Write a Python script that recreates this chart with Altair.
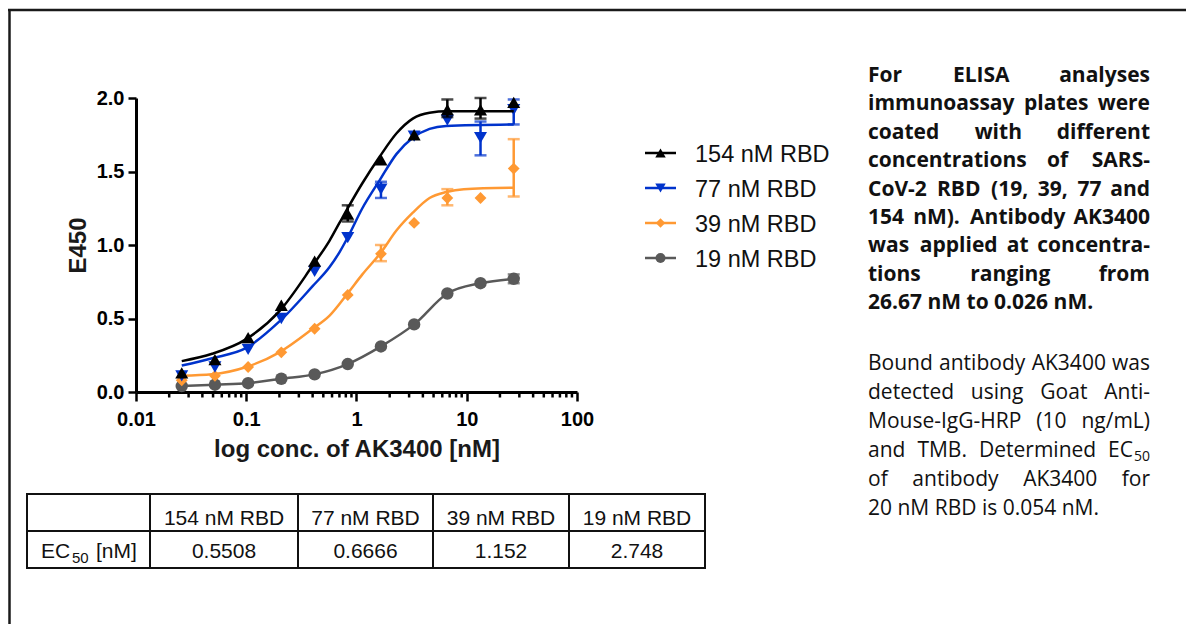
import altair as alt
import pandas as pd

# ---------------- data ----------------
SERIES = ["154 nM RBD", "77 nM RBD", "39 nM RBD", "19 nM RBD"]

CONC = [0.026, 0.052, 0.104, 0.208, 0.417, 0.833, 1.667, 3.333, 6.667, 13.33, 26.67]
E450_154 = [0.13, 0.22, 0.37, 0.59, 0.89, 1.21, 1.58, 1.75, 1.92, 1.92, 1.97]
E450_77 = [0.11, 0.17, 0.29, 0.50, 0.82, 1.05, 1.38, 1.74, 1.85, 1.73, 1.92]
E450_39 = [0.08, 0.11, 0.17, 0.27, 0.43, 0.66, 0.94, 1.15, 1.32, 1.32, 1.52]
E450_19 = [0.04, 0.05, 0.06, 0.09, 0.12, 0.19, 0.31, 0.46, 0.67, 0.74, 0.77]

# error bars: concentration, lower end, upper end
ERR_CONC_154 = [0.833, 6.667, 13.33]
ERR_LO_154 = [1.16, 1.87, 1.86]
ERR_HI_154 = [1.27, 1.99, 2.00]
ERR_CONC_77 = [1.667, 13.33, 26.67]
ERR_LO_77 = [1.32, 1.61, 1.82]
ERR_HI_77 = [1.43, 1.84, 1.99]
ERR_CONC_39 = [1.667, 6.667, 26.67]
ERR_LO_39 = [0.89, 1.27, 1.33]
ERR_HI_39 = [1.00, 1.38, 1.72]
ERR_CONC_19 = [26.67]
ERR_LO_19 = [0.74]
ERR_HI_19 = [0.80]

# fitted curves
FIT_CONC_154 = [0.026, 0.049, 0.1, 0.2, 0.4, 0.57, 0.70, 1.13, 1.62, 2.31, 3.24, 4.6, 6.67, 26.67]
FIT_154 = [0.21, 0.26, 0.36, 0.55, 0.86, 1.03, 1.15, 1.42, 1.60, 1.76, 1.86, 1.90, 1.91, 1.91]
FIT_CONC_77 = [0.026, 0.049, 0.1, 0.2, 0.4, 0.57, 0.70, 0.83, 1.13, 1.62, 2.31, 3.24, 4.6, 6.5, 26.67]
FIT_77 = [0.18, 0.23, 0.30, 0.48, 0.72, 0.85, 0.95, 1.05, 1.25, 1.44, 1.62, 1.73, 1.79, 1.81, 1.82]
FIT_CONC_39 = [0.026, 0.049, 0.1, 0.2, 0.4, 0.57, 0.83, 1.13, 1.67, 2.31, 3.24, 4.6, 6.5, 9.4, 26.67]
FIT_39 = [0.11, 0.12, 0.17, 0.27, 0.43, 0.52, 0.67, 0.80, 0.95, 1.10, 1.22, 1.32, 1.36, 1.38, 1.39]

X_TICKS = [0.01, 0.1, 1, 10, 100]
Y_TICKS = [0.0, 0.5, 1.0, 1.5, 2.0]

TABLE_ROW_LABEL = "EC"
TABLE_ROW_SUB = "50"
TABLE_ROW_UNIT = "[nM]"
EC50 = ["0.5508", "0.6666", "1.152", "2.748"]

PARA1_WORDS = [
    ["For", "ELISA", "analyses"],
    ["immunoassay", "plates", "were"],
    ["coated", "with", "different"],
    ["concentrations", "of", "SARS-"],
    ["CoV-2", "RBD", "(19,", "39,", "77", "and"],
    ["154", "nM).", "Antibody", "AK3400"],
    ["was", "applied", "at", "concentra-"],
    ["tions", "ranging", "from"],
    ["26.67 nM to 0.026 nM."],
]
PARA2_WORDS = [
    ["Bound", "antibody", "AK3400", "was"],
    ["detected", "using", "Goat", "Anti-"],
    ["Mouse-IgG-HRP", "(10", "ng/mL)"],
    ["and", "TMB.", "Determined", "EC"],
    ["of", "antibody", "AK3400", "for"],
    ["20 nM RBD is 0.054 nM."],
]
PARA2_SUB = "50"
PARA2_SUB_LINE = 3

# ---------------- layout & style ----------------
COLORS = ["#000000", "#0033cc", "#ff9933", "#595959"]
SHAPES = ["triangle-up", "triangle-down", "diamond", "circle"]
SIZES = [170, 170, 140, 155]
LEG_SIZES = [110, 110, 90, 100]
FONT_SANS = "Liberation Sans, Arial, Helvetica, sans-serif"
FONT_TEXT = "Open Sans, Noto Sans, sans-serif"
INK = "#111111"

W, H = 441, 294
PAD_L, PAD_T = 128, 90
TOTAL_W, TOTAL_H = 1178, 616
PAD_R = TOTAL_W - PAD_L - W
PAD_B = TOTAL_H - PAD_T - H
OX, OY = 8 + PAD_L, 8 + PAD_T


def rx(px):
    return px - OX


def ry(py):
    return py - OY


ONE = pd.DataFrame({"k": [0]})


def text_layer(s, px, py, size, weight="normal", font=FONT_SANS, align="left", color=INK):
    return alt.Chart(ONE).mark_text(
        align=align, baseline="alphabetic", font=font, fontSize=size,
        fontWeight=weight, color=color
    ).encode(x=alt.value(rx(px)), y=alt.value(ry(py)), text=alt.value(s))


def hline(px1, px2, py, w=2, color=INK, cap="square"):
    return alt.Chart(ONE).mark_rule(color=color, strokeWidth=w, strokeCap=cap).encode(
        x=alt.value(rx(px1)), x2=alt.value(rx(px2)), y=alt.value(ry(py)))


def vline(px, py1, py2, w=2, color=INK, cap="square"):
    return alt.Chart(ONE).mark_rule(color=color, strokeWidth=w, strokeCap=cap).encode(
        x=alt.value(rx(px)), y=alt.value(ry(py1)), y2=alt.value(ry(py2)))


# approximate glyph advance widths (em) used to justify the paragraph lines
_REG = {' ': .26, 'a': .556, 'b': .613, 'c': .476, 'd': .613, 'e': .561, 'f': .339, 'g': .548,
        'h': .614, 'i': .253, 'l': .253, 'm': .93, 'n': .614, 'o': .604, 'p': .613, 'r': .408,
        's': .477, 't': .353, 'u': .614, 'w': .778, 'y': .502, 'A': .633, 'B': .635, 'C': .631,
        'D': .722, 'E': .556, 'G': .728, 'H': .738, 'I': .279, 'K': .596, 'L': .519, 'M': .903,
        'P': .595, 'R': .623, 'T': .561, '.': .266, ',': .243, '-': .322, '(': .297, ')': .297,
        '/': .367}
_BOLD = {' ': .26, 'a': .586, 'b': .617, 'c': .507, 'd': .617, 'e': .579, 'f': .389, 'g': .558,
         'h': .648, 'i': .3, 'l': .3, 'm': .974, 'n': .648, 'o': .614, 'p': .617, 'r': .451,
         's': .505, 't': .424, 'u': .648, 'w': .852, 'y': .564, 'A': .69, 'B': .681, 'C': .655,
         'D': .761, 'E': .553, 'I': .357, 'K': .68, 'L': .565, 'M': .994, 'R': .671, 'S': .57,
         'V': .664, 'T': .592, '.': .297, ',': .286, '-': .322, '(': .339, ')': .339}


def est_width(s, size, bold):
    tbl = _BOLD if bold else _REG
    tot = 0.0
    for ch in s:
        if ch.isdigit():
            tot += .572
        else:
            tot += tbl.get(ch, .6)
    return tot * size


xscale = alt.Scale(type="log", domain=[0.01, 100], nice=False)
yscale = alt.Scale(domain=[0, 2], nice=False, zero=False)
xaxis = alt.Axis(
    values=X_TICKS, format="~g", title="log conc. of AK3400 [nM]", grid=False,
    labelFont=FONT_SANS, labelFontSize=20, labelFontWeight="bold", labelColor="black",
    labelPadding=8, labelFlush=False, labelOverlap=False,
    tickSize=9, tickWidth=2.5, tickColor="black", domainWidth=3, domainColor="black",
    titleFont=FONT_SANS, titleFontSize=24, titleFontWeight="bold", titleColor="#1a1a1a",
    titlePadding=8,
)
yaxis = alt.Axis(
    values=Y_TICKS, format=".1f", title="E450", grid=False,
    labelFont=FONT_SANS, labelFontSize=20, labelFontWeight="bold", labelColor="black",
    labelPadding=4, labelFlush=False, labelOverlap=False,
    tickSize=8, tickWidth=2.5, tickColor="black", domainWidth=3, domainColor="black",
    titleFont=FONT_SANS, titleFontSize=24, titleFontWeight="bold", titleColor="#1a1a1a",
    titlePadding=6,
)


def X():
    return alt.X("conc:Q", scale=xscale, axis=xaxis)


def Y(field):
    return alt.Y(f"{field}:Q", scale=yscale, axis=yaxis)


values = [E450_154, E450_77, E450_39, E450_19]
err_conc = [ERR_CONC_154, ERR_CONC_77, ERR_CONC_39, ERR_CONC_19]
err_lo = [ERR_LO_154, ERR_LO_77, ERR_LO_39, ERR_LO_19]
err_hi = [ERR_HI_154, ERR_HI_77, ERR_HI_39, ERR_HI_19]
fits = [(FIT_CONC_154, FIT_154), (FIT_CONC_77, FIT_77), (FIT_CONC_39, FIT_39), None]

layers = []

# minor ticks of the log axis
MINOR = [m * 10.0 ** e for e in range(-2, 2) for m in range(2, 10)]
layers.append(
    alt.Chart(pd.DataFrame({"conc": MINOR})).mark_rule(color="black", strokeWidth=2.5).encode(
        x=X(), y=alt.value(H), y2=alt.value(H + 5.5))
)

for i in [3, 2, 1, 0]:
    col = COLORS[i]
    pts = pd.DataFrame({"conc": CONC, "e450": values[i]})
    if fits[i] is not None:
        cdf = pd.DataFrame({"conc": fits[i][0], "e450": fits[i][1]})
    else:
        cdf = pts
    layers.append(alt.Chart(cdf).mark_line(color=col, strokeWidth=2.5, interpolate="monotone").encode(
        x=X(), y=Y("e450")))
    edf = pd.DataFrame({"conc": err_conc[i], "lo": err_lo[i], "hi": err_hi[i]})
    layers.append(alt.Chart(edf).mark_rule(color=col, strokeWidth=2.5).encode(
        x=X(), y=Y("lo"), y2="hi:Q"))
    layers.append(alt.Chart(edf).mark_tick(color=col, size=12, thickness=2.5, orient="horizontal").encode(
        x=X(), y=Y("lo")))
    layers.append(alt.Chart(edf).mark_tick(color=col, size=12, thickness=2.5, orient="horizontal").encode(
        x=X(), y=Y("hi")))
    layers.append(alt.Chart(pts).mark_point(shape=SHAPES[i], filled=True, opacity=1, size=SIZES[i],
                                            color=col, strokeWidth=0).encode(x=X(), y=Y("e450")))

# ---- legend ----
LEG_LINE_Y = [153, 188, 223, 258]
LEG_TEXT_Y = [162, 197, 232, 267]
for i, name in enumerate(SERIES):
    layers.append(hline(645, 676, LEG_LINE_Y[i], w=2.5, color=COLORS[i], cap="butt"))
    layers.append(alt.Chart(ONE).mark_point(shape=SHAPES[i], filled=True, opacity=1, size=LEG_SIZES[i],
                                            color=COLORS[i], strokeWidth=0).encode(
        x=alt.value(rx(660.5)), y=alt.value(ry(LEG_LINE_Y[i]))))
    layers.append(text_layer(name, 695, LEG_TEXT_Y[i], 23.5))

# ---- table ----
T_X = [27, 150, 298, 433, 569, 705]
T_Y = [494, 531, 568]
for y in T_Y:
    layers.append(hline(T_X[0], T_X[-1], y))
for x in T_X:
    layers.append(vline(x, T_Y[0], T_Y[-1]))
for j, name in enumerate(SERIES):
    cx = (T_X[j + 1] + T_X[j + 2]) / 2
    layers.append(text_layer(name, cx, 525, 21, align="center"))
    layers.append(text_layer(EC50[j], cx, 558, 21, align="center"))
layers.append(text_layer(TABLE_ROW_LABEL, 41, 558, 21))
layers.append(text_layer(TABLE_ROW_SUB, 72, 563, 15))
layers.append(text_layer(TABLE_ROW_UNIT, 96, 558, 21))

# ---- right-hand text (justified word by word) ----
LEFT_EDGE, RIGHT_EDGE = 868, 1150
P1_SIZE, P2_SIZE, SUB_SIZE = 21, 21, 14


def justified(words, by, size, bold, last_line, extra_last=0.0):
    out = []
    weight = "bold" if bold else "normal"
    if last_line or len(words) == 1:
        out.append(text_layer(" ".join(words), LEFT_EDGE, by, size, weight=weight, font=FONT_TEXT))
        return out
    widths = [est_width(w_, size, bold) for w_ in words]
    widths[-1] += extra_last
    gap = (RIGHT_EDGE - LEFT_EDGE - sum(widths)) / (len(words) - 1)
    x = LEFT_EDGE
    for k, w_ in enumerate(words):
        if k == len(words) - 1:
            if extra_last:
                out.append(text_layer(w_, RIGHT_EDGE - extra_last, by, size, weight=weight,
                                      font=FONT_TEXT, align="right"))
            else:
                out.append(text_layer(w_, RIGHT_EDGE, by, size, weight=weight, font=FONT_TEXT,
                                      align="right"))
        else:
            out.append(text_layer(w_, x, by, size, weight=weight, font=FONT_TEXT))
        x += widths[k] + gap
    return out


for k, words in enumerate(PARA1_WORDS):
    layers += justified(words, 82 + 28.4 * k, P1_SIZE, True, k == len(PARA1_WORDS) - 1)

sub_w = est_width(PARA2_SUB, SUB_SIZE, False) + 1
for k, words in enumerate(PARA2_WORDS):
    extra = sub_w if k == PARA2_SUB_LINE else 0.0
    layers += justified(words, 370 + 29 * k, P2_SIZE, False, k == len(PARA2_WORDS) - 1, extra)
layers.append(text_layer(PARA2_SUB, RIGHT_EDGE, 370 + 29 * PARA2_SUB_LINE + 4, SUB_SIZE,
                         font=FONT_TEXT, align="right"))

# ---- frame (top and left edges) ----
layers.append(hline(8, 8 + TOTAL_W, 10, w=2.5, color="#1a1a1a", cap="butt"))
layers.append(vline(9.5, 10, 8 + TOTAL_H, w=2.5, color="#1a1a1a", cap="butt"))

chart = alt.layer(*layers).properties(
    width=W, height=H,
    padding={"left": PAD_L, "top": PAD_T, "right": PAD_R, "bottom": PAD_B},
    autosize=alt.AutoSizeParams(type="none"),
).configure_view(strokeWidth=0)

chart.save("out.html", embed_options={"renderer": "svg", "actions": False})
